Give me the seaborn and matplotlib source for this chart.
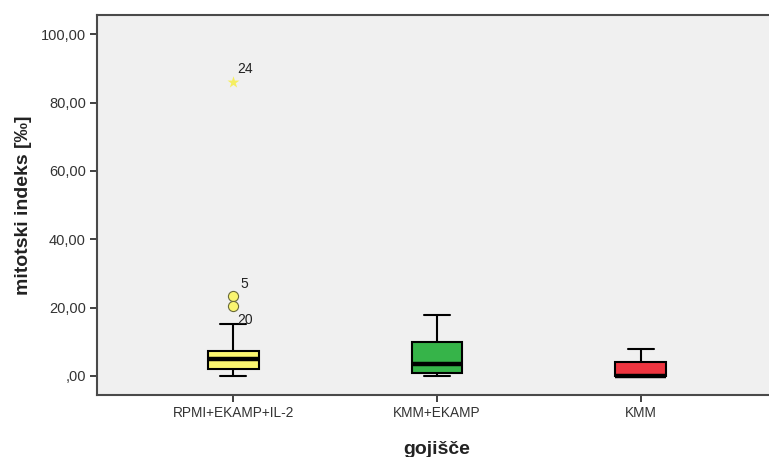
import matplotlib
matplotlib.use("Agg")
import matplotlib.pyplot as plt
import matplotlib.ticker as mticker
import seaborn as sns
import pandas as pd

# Culture media (groups) and their five-number summaries: min, Q1, median, Q3, max (whisker ends)
groups = ["RPMI+EKAMP+IL-2", "KMM+EKAMP", "KMM"]
summary_rpmi = [0.0, 2.0, 4.9, 7.4, 15.1]
summary_kmm_ekamp = [0.0, 1.0, 3.5, 9.85, 17.9]
summary_kmm = [0.0, 0.0, 0.0, 4.2, 8.0]
box_colors = ["#FAF570", "#36B449", "#EE3540"]

# Outlying cases (value, case number) in the first group
outlier_values = [23.4, 20.5]
outlier_cases = ["5", "20"]
extreme_values = [86.0]
extreme_cases = ["24"]

y_ticks = [0, 20, 40, 60, 80, 100]

df = pd.DataFrame({
    "gojišče": [g for g, s in zip(groups, [summary_rpmi, summary_kmm_ekamp, summary_kmm]) for _ in s],
    "value": summary_rpmi + summary_kmm_ekamp + summary_kmm,
})

sns.set_style("white")
plt.rcParams["font.family"] = ["Liberation Sans", "DejaVu Sans"]

fig = plt.figure(figsize=(7.69, 4.57), dpi=100)
fig.patch.set_facecolor("white")
ax = fig.add_axes([97 / 769, 62 / 457, 680 / 769, 380 / 457])
ax.set_facecolor("#F0F0F0")

sns.boxplot(
    data=df, x="gojišče", y="value", hue="gojišče", order=groups, hue_order=groups,
    palette=box_colors, saturation=1, legend=False, width=0.25, dodge=False, whis=1.5,
    linewidth=1.5, linecolor="black", fliersize=0,
    medianprops={"linewidth": 3.2, "color": "black"},
    ax=ax,
)

# Outliers (circles) and extreme values (stars) for the first group
out_df = pd.DataFrame({"gojišče": [groups[0]] * len(outlier_values), "value": outlier_values})
ext_df = pd.DataFrame({"gojišče": [groups[0]] * len(extreme_values), "value": extreme_values})
sns.stripplot(data=out_df, x="gojišče", y="value", order=groups, jitter=False,
              color="#FAF570", edgecolor="#6b6b3a", linewidth=0.8, size=7.3, ax=ax, zorder=5)
sns.stripplot(data=ext_df, x="gojišče", y="value", order=groups, jitter=False,
              color="#F5EE60", marker="*", size=9, linewidth=0, ax=ax, zorder=5)

label_offsets = {"5": (11, 12), "20": (12, -14), "24": (12, 13)}
for v, c in zip(outlier_values + extreme_values, outlier_cases + extreme_cases):
    ax.annotate(c, xy=(0, v), xytext=label_offsets[c], textcoords="offset pixels",
                ha="center", va="center", fontsize=10, color="#222222")

ax.set_xlim(-0.667, 2.667)
ax.set_ylim(-5.56, 105.6)
ax.set_yticks(y_ticks)
ax.yaxis.set_major_formatter(mticker.FuncFormatter(
    lambda v, p: f"{v:.2f}".replace(".", ",").lstrip("0") if v == 0 else f"{v:.2f}".replace(".", ",")))

for side in ["left", "right", "top", "bottom"]:
    ax.spines[side].set_visible(True)
    ax.spines[side].set_color("#4a4a4a")
    ax.spines[side].set_linewidth(1.5)

ax.tick_params(axis="both", direction="out", length=5, width=1.3, color="#333333",
               labelcolor="#333333", left=True, bottom=True, pad=3)
ax.tick_params(axis="y", labelsize=10.5)
ax.tick_params(axis="x", labelsize=9.8)

ax.set_xlabel("gojišče", fontsize=14, fontweight="bold", color="#222222", labelpad=15)
ax.set_ylabel("mitotski indeks [‰]", fontsize=14, fontweight="bold", color="#222222", labelpad=6)

fig.savefig("out.png", dpi=100, facecolor="white")
